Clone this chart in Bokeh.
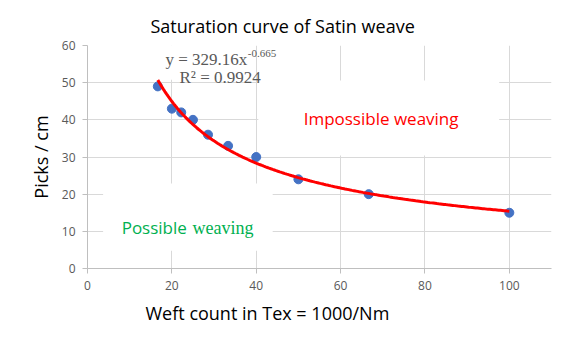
import numpy as np
from bokeh.plotting import figure
from bokeh.models import Label, BoxAnnotation, Title
from bokeh.embed import file_html
from bokeh.resources import INLINE

# ---- data ----
weft_tex = [16.67, 20.0, 22.22, 25.0, 28.57, 33.33, 40.0, 50.0, 66.67, 100.0]
picks_cm = [49, 43, 42, 40, 36, 33, 30, 24, 20, 15]
x_ticks = [0, 20, 40, 60, 80, 100]
y_ticks = [0, 10, 20, 30, 40, 50, 60]
title_text = "Saturation curve of Satin weave"
x_title = "Weft count in Tex = 1000/Nm"
y_title = "Picks / cm"
eq_text = "y = 329.16x"
eq_sup = "-0.665"
r2_text = "R\u00b2 = 0.9924"

# power-law trendline fitted from the data (least squares in log space)
b, lna = np.polyfit(np.log(weft_tex), np.log(picks_cm), 1)
xs = np.linspace(min(weft_tex), max(weft_tex), 200)
ys = np.exp(lna) * xs ** b

SANS = "Open Sans"
SERIF = "Liberation Serif"
GRAY = "#595959"

p = figure(width=580, height=357, x_range=(0, 110), y_range=(0, 60),
           output_backend="svg", toolbar_location=None, title=None,
           min_border_left=87, min_border_right=29, min_border_top=45,
           min_border_bottom=89, outline_line_color=None)

p.xaxis.ticker = x_ticks
p.yaxis.ticker = y_ticks
for ax in (p.xaxis, p.yaxis):
    ax.axis_line_color = "#bfbfbf"
    ax.major_tick_line_color = "#bfbfbf"
    ax.minor_tick_line_color = None
    ax.major_tick_out = 5
    ax.major_tick_in = 0
    ax.major_label_text_color = GRAY
    ax.major_label_text_font = SANS
    ax.major_label_text_font_size = "12px"
    ax.major_label_standoff = 7
p.xgrid.ticker = x_ticks
p.ygrid.ticker = y_ticks
p.grid.grid_line_color = "#d9d9d9"
p.grid.grid_line_width = 1

p.yaxis.axis_label = y_title
p.yaxis.axis_label_text_font = SANS
p.yaxis.axis_label_text_font_size = "18px"
p.yaxis.axis_label_text_font_style = "normal"
p.yaxis.axis_label_text_color = "black"
p.yaxis.axis_label_standoff = 6

p.add_layout(Title(text=title_text, align="left", offset=63, text_font=SANS,
                   text_font_size="18px", text_font_style="normal",
                   text_color="black", standoff=16), "above")
p.add_layout(Title(text=x_title, align="left", offset=58, text_font=SANS,
                   text_font_size="18px", text_font_style="normal",
                   text_color="black", standoff=13), "below")

# white label boxes that mask gridlines
for l, r, t, btm in [(18.5, 39.6, 60.5, 50.8), (40.5, 97.6, 50.6, 30.4), (3.7, 43.9, 22.9, 4.8)]:
    p.add_layout(BoxAnnotation(left=l, right=r, top=t, bottom=btm, fill_color="white",
                               fill_alpha=1, line_alpha=0, level="underlay"))

p.scatter(weft_tex, picks_cm, size=9, color="#4472C4")
p.line(xs, ys, line_color="#FF0000", line_width=3)

def lab(**kw):
    p.add_layout(Label(**kw))

lab(x=18.5, y=56.2, text=eq_text, text_font=SERIF, text_font_size="17px",
    text_color=GRAY, text_align="left", text_baseline="alphabetic")
lab(x=38.0, y=57.9, text=eq_sup, text_font=SERIF, text_font_size="11px",
    text_color=GRAY, text_align="left", text_baseline="alphabetic")
lab(x=21.8, y=51.3, text=r2_text, text_font=SERIF, text_font_size="17px",
    text_color=GRAY, text_align="left", text_baseline="alphabetic")

lab(x=69.6, y=40.4, text="Impossible weaving", text_font=SANS, text_font_size="17px",
    text_color="#FF0000", text_align="center", text_baseline="middle")
lab(x=8.1, y=11.0, text="Possible", text_font=SANS, text_font_size="17px",
    text_color="#00B050", text_align="left", text_baseline="alphabetic")
lab(x=24.9, y=11.0, text="weaving", text_font=SERIF, text_font_size="18px",
    text_color="#00B050", text_align="left", text_baseline="alphabetic")

open("out.html", "w").write(file_html(p, INLINE))
